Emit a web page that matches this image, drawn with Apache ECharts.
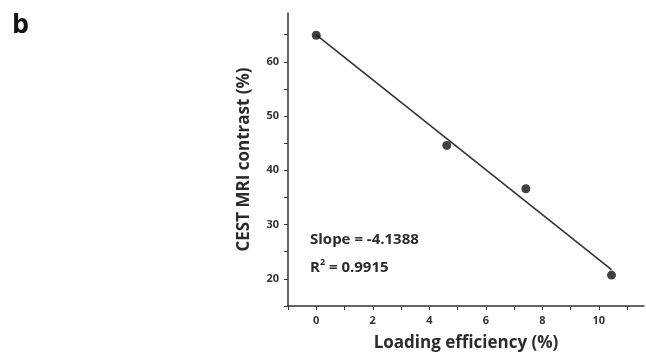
<!DOCTYPE html>
<html>
<head>
<meta charset="utf-8">
<script src="https://cdn.jsdelivr.net/npm/echarts@6/dist/echarts.min.js"></script>
<style>
  html, body { margin: 0; padding: 0; background: #fff; }
  #chart { width: 646px; height: 358px; }
</style>
</head>
<body>
<div id="chart"></div>
<script>
// Measured samples: loading efficiency (%) vs. CEST MRI contrast (%)
const loadingEfficiency = [0, 4.62, 7.42, 10.45];
const cestContrast = [64.9, 44.6, 36.6, 20.7];

// Linear fit reported on the plot
const fitSlope = -4.1388;
const fitIntercept = 64.97;
const fitR2 = 0.9915;
const fitRange = [0, 10.45];

const FONT = '"Open Sans", "DejaVu Sans", sans-serif';
const INK = '#2b2b2b';

const points = loadingEfficiency.map((x, i) => [x, cestContrast[i]]);
const fitLine = fitRange.map(x => [x, fitIntercept + fitSlope * x]);

const chart = echarts.init(document.getElementById('chart'), null, { renderer: 'canvas' });

chart.setOption({
  animation: false,
  backgroundColor: '#fff',
  grid: { left: 288, top: 13, right: 2, bottom: 52, containLabel: false },
  xAxis: {
    type: 'value',
    min: -1,
    max: 11.6,
    interval: 1,
    name: 'Loading efficiency (%)',
    nameLocation: 'middle',
    nameGap: 29,
    nameTextStyle: { fontFamily: FONT, fontWeight: 'bold', fontSize: 17, color: INK },
    axisLine: { onZero: false, lineStyle: { color: '#333', width: 1.5 } },
    axisTick: { length: 4, lineStyle: { color: '#333' }, inside: false },
    axisLabel: {
      margin: 9,
      fontFamily: FONT, fontWeight: 'bold', fontSize: 11, color: '#333',
      formatter: v => (v >= 0 && v % 2 === 0) ? String(v) : '',
      showMaxLabel: false
    },
    splitLine: { show: false }
  },
  yAxis: {
    type: 'value',
    min: 15,
    max: 69,
    interval: 5,
    name: 'CEST MRI contrast (%)',
    nameLocation: 'middle',
    nameGap: 35,
    nameTextStyle: { fontFamily: FONT, fontWeight: 'bold', fontSize: 17, color: INK },
    axisLine: { show: true, onZero: false, lineStyle: { color: '#333', width: 1.5 } },
    axisTick: { show: true, length: 4, lineStyle: { color: '#333' }, inside: false },
    axisLabel: {
      margin: 9,
      fontFamily: FONT, fontWeight: 'bold', fontSize: 11, color: '#333',
      formatter: v => (v % 10 === 0) ? String(v) : '',
      showMaxLabel: false
    },
    splitLine: { show: false }
  },
  series: [
    {
      type: 'line',
      data: fitLine,
      symbol: 'none',
      lineStyle: { color: '#333', width: 1.6 },
      z: 2
    },
    {
      type: 'scatter',
      data: points,
      symbol: 'circle',
      symbolSize: 9,
      itemStyle: { color: '#111' },
      z: 3
    }
  ],
  graphic: [
    {
      type: 'text', left: 12, top: 12,
      style: { text: 'b', font: 'bold 27px ' + FONT, fill: '#111' }
    },
    {
      type: 'text', left: 310, top: 232,
      style: {
        text: 'Slope = ' + fitSlope.toFixed(4),
        font: 'bold 15px ' + FONT, fill: INK
      }
    },
    {
      type: 'text', left: 310, top: 258,
      style: {
        text: '{t|R}{s|2}{t| = ' + fitR2.toFixed(4) + '}',
        rich: {
          t: { font: 'bold 15px ' + FONT, fill: INK, color: INK, verticalAlign: 'bottom' },
          s: { font: 'bold 9px ' + FONT, fill: INK, color: INK, verticalAlign: 'top', padding: [0, 0, 8, 0] }
        }
      }
    }
  ]
});
</script>
</body>
</html>
